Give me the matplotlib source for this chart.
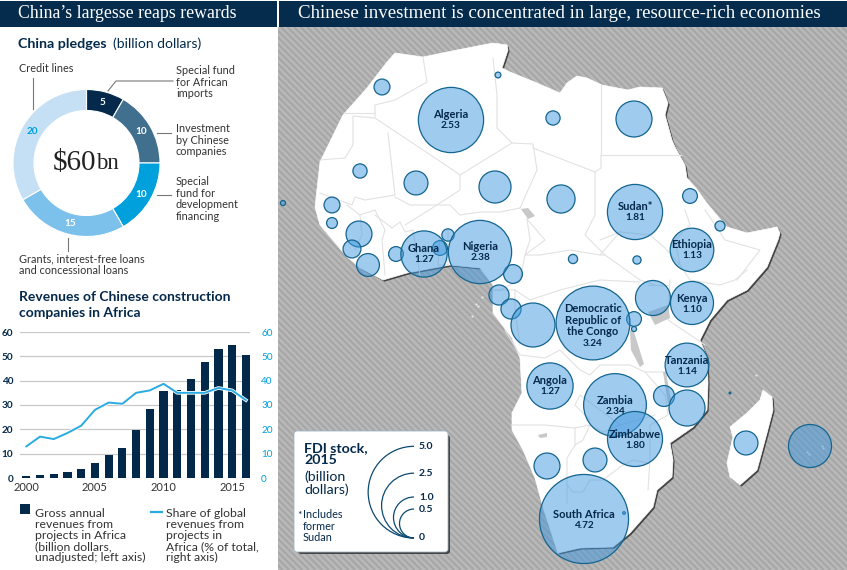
import numpy as np
import matplotlib
matplotlib.use("Agg")
import matplotlib.pyplot as plt
import matplotlib.patheffects as pe
from matplotlib.patches import Rectangle, Polygon, Circle, Arc, FancyBboxPatch

plt.rcParams['font.family'] = ['Lato', 'DejaVu Sans']

NAVY = '#04294a'
BLUE = '#00a0dc'
GREY_TXT = '#333333'

# donut data
pledge_values = [5, 10, 10, 15, 20]
pledge_colors = ['#04294a', '#41708f', '#00a0dc', '#7cc0ec', '#c5dff5']
pledge_text_colors = ['white', 'white', 'white', 'white', '#00a0dc']

# revenue chart data
years = list(range(2000, 2017))
revenues = [1.0, 1.3, 1.8, 2.6, 3.7, 6.0, 9.3, 12.5, 19.7, 28.2, 35.8, 36.2, 40.8, 47.7, 53.2, 54.7, 50.5]
share = [13, 17, 16, 18.5, 21.5, 28, 31, 30.5, 35, 36, 38.7, 35, 35, 35, 37, 36, 32]
rev_ticks = [0, 10, 20, 30, 40, 50, 60]
year_ticks = [2000, 2005, 2010, 2015]

# FDI stock, billion dollars (bubbles without a label are estimated from their size)
countries = ['Algeria', 'Sudan*', 'Ethiopia', 'Kenya', 'Tanzania', 'Democratic\nRepublic of\nthe Congo',
             'Angola', 'Zambia', 'Zimbabwe', 'South Africa', 'Nigeria', 'Ghana']
fdi = [2.53, 1.81, 1.13, 1.10, 1.14, 3.24, 1.27, 2.34, 1.80, 4.72, 2.38, 1.27]
fdi_x = [451, 635, 692, 692, 687, 593, 550, 615, 635, 584, 480, 424]
fdi_y = [120, 212, 250, 303, 365, 323, 386, 405, 439, 519, 252, 254]

other_fdi = [0.02, 0.15, 0.12, 0.77, 0.12, 0.34, 0.61, 0.47, 0.15, 0.015, 0.07, 0.40, 0.19, 0.31, 0.13, 0.13,
             0.09, 0.21, 0.05, 0.24, 0.24, 1.15, 0.40, 0.34, 0.13, 0.06, 0.04, 0.73, 0.13, 0.015, 0.26, 0.77,
             0.34, 1.10, 0.002, 0.004]
other_x = [498, 382, 553, 634, 360, 416, 495, 561, 332, 283, 332, 359, 352, 368, 396, 440,
           448, 513, 573, 499, 511, 533, 547, 595, 690, 720, 637, 653, 634, 634, 664, 687,
           746, 810, 730, 624]
other_y = [75, 87, 118, 119, 171, 183, 187, 199, 205, 203, 223, 234, 249, 265, 254, 248,
           235, 274, 259, 295, 309, 325, 466, 460, 196, 226, 260, 298, 319, 329, 396, 408,
           443, 446, 393, 513]

legend_sizes = [5.0, 2.5, 1.0, 0.5]
RADIUS_K = 20.5

# map shapes in picture pixels
africa = [(395, 53), (423, 57), (457, 50), (493, 43), (507, 45), (508, 50), (502, 68), (510, 72), (537, 83),
          (560, 93), (567, 83), (577, 76), (587, 78), (602, 85), (628, 90), (640, 87), (662, 88), (668, 103),
          (665, 115), (672, 140), (675, 147), (685, 165), (687, 178), (697, 189),
          (707, 203), (727, 227), (747, 233), (777, 227), (780, 233), (778, 240), (767, 267), (747, 290),
          (727, 300), (710, 320), (700, 340), (707, 357), (708, 383), (707, 410), (693, 427), (670, 443),
          (673, 460), (672, 477), (657, 490), (653, 507), (630, 533), (613, 547), (580, 548), (558, 553),
          (543, 507), (535, 478), (523, 450), (512, 430), (512, 413), (522, 393), (520, 358), (512, 338),
          (493, 313), (493, 285), (480, 268), (450, 265), (407, 273), (383, 280), (360, 268), (347, 257),
          (320, 225), (315, 207), (320, 162), (343, 115), (367, 88), (387, 62)]
madagascar = [(763, 390), (772, 397), (773, 410), (767, 433), (757, 470), (740, 485), (730, 477), (727, 463),
              (733, 437), (730, 427), (747, 413), (760, 400)]
lakes = [[(521, 209), (528, 208), (535, 216), (528, 219)],
         [(648, 312), (668, 305), (670, 318), (655, 325)],
         [(630, 330), (634, 332), (644, 364), (640, 367), (631, 350)],
         [(663, 372), (666, 372), (671, 400), (668, 404)],
         [(538, 435), (547, 433), (547, 437), (540, 438)]]
islands_x = [807, 809, 822, 823, 756, 476, 478, 482, 472]
islands_y = [452, 454, 446, 448, 375, 304, 306, 297, 316]
borders = [
    [(423, 57), (425, 70), (427, 82), (395, 100), (375, 105), (375, 118), (453, 170), (460, 175), (512, 143), (497, 128), (497, 95), (493, 58)],
    [(345, 113), (375, 113)],
    [(375, 118), (353, 116), (353, 145), (345, 158), (320, 160)],
    [(388, 133), (395, 195), (365, 200), (355, 197), (352, 205), (320, 193)],
    [(460, 175), (460, 190), (437, 205), (410, 205), (395, 197)],
    [(405, 225), (437, 205), (450, 205), (460, 215), (480, 212), (500, 212), (520, 208)],
    [(512, 143), (533, 144), (537, 170), (520, 208)],
    [(533, 148), (595, 172), (595, 215), (585, 235), (605, 255)],
    [(601, 85), (601, 155), (681, 155)],
    [(595, 172), (601, 168), (601, 155)],
    [(527, 219), (530, 240), (525, 255), (540, 255), (570, 250), (600, 255), (605, 255), (640, 280), (655, 285)],
    [(527, 219), (545, 240), (525, 255), (520, 280), (500, 290), (493, 290)],
    [(600, 255), (620, 232), (650, 235), (665, 248), (680, 265), (690, 280), (720, 285), (735, 280), (747, 270)],
    [(620, 232), (600, 240)],
    [(685, 210), (690, 225), (675, 240), (680, 265)],
    [(705, 210), (725, 240), (760, 250), (737, 280)],
    [(670, 280), (668, 320), (705, 345)],
    [(648, 285), (668, 285)],
    [(493, 290), (515, 290), (530, 300), (560, 290), (600, 280), (640, 282)],
    [(505, 330), (520, 355), (545, 358), (560, 350), (580, 370), (590, 375), (600, 365), (630, 365), (645, 372), (665, 372)],
    [(515, 290), (515, 310), (520, 345)],
    [(512, 425), (545, 425), (575, 428), (590, 425), (603, 432), (620, 425), (655, 415)],
    [(575, 428), (575, 445), (567, 458), (567, 503)],
    [(590, 425), (583, 440), (575, 445)],
    [(620, 425), (580, 395), (575, 405), (590, 420)],
    [(645, 372), (665, 395), (668, 415), (650, 425), (650, 460), (648, 490)],
    [(567, 485), (573, 492), (583, 492), (590, 480), (603, 480), (620, 467), (633, 460), (648, 463)],
    [(347, 205), (360, 215), (375, 210), (385, 230), (382, 240), (385, 275)],
    [(375, 215), (392, 228), (400, 222), (405, 232), (413, 230), (420, 275)],
    [(360, 215), (362, 235), (355, 250)],
    [(440, 235), (438, 265), (448, 265), (448, 230)],
]

fig = plt.figure(figsize=(8.47, 5.70), dpi=100, facecolor='white')

# base layer, in picture pixels
base = fig.add_axes([0, 0, 1, 1])
base.set_xlim(0, 847)
base.set_ylim(570, 0)
base.axis('off')

# map background with diagonal stripes
bg = Rectangle((278, 27), 569, 543, facecolor='#b9b9b9', edgecolor='none', zorder=0.1)
base.add_patch(bg)
for x0 in np.arange(-300, 860, 6.6):
    stripe, = base.plot([x0, x0 + 543], [27, 570], color='#a7a7a7', lw=1.6, solid_capstyle='butt', zorder=0.2)
    stripe.set_clip_path(bg)

for shape in [africa, madagascar]:
    shadow = [(x + 1.6, y + 1.6) for x, y in shape]
    base.add_patch(Polygon(shadow, closed=True, facecolor='#444444', edgecolor='none', zorder=0.3))
for shape in [africa, madagascar]:
    base.add_patch(Polygon(shape, closed=True, facecolor='white', edgecolor='white', linewidth=0.5, zorder=0.4))
for line in borders:
    xs, ys = zip(*line)
    base.plot(xs, ys, color='#e2e2e2', lw=0.8, solid_joinstyle='round', zorder=0.5)
for lake in lakes:
    base.add_patch(Polygon(lake, closed=True, facecolor='#c8c8c8', edgecolor='none', zorder=0.6))
base.plot(islands_x, islands_y, ls='none', marker='o', ms=1.6, mew=0, color='#e8e8e8', zorder=0.7)

# bubbles
for v, x, y in zip(other_fdi + fdi, other_x + fdi_x, other_y + fdi_y):
    r = RADIUS_K * np.sqrt(v)
    base.add_patch(Circle((x, y), r, facecolor=(0.25, 0.6, 0.88, 0.5), edgecolor='none', zorder=1))
    base.add_patch(Circle((x, y), r, facecolor='none', edgecolor='#14658f', linewidth=0.9, zorder=1))
for name, v, x, y in zip(countries, fdi, fdi_x, fdi_y):
    n_lines = name.count('\n') + 1
    base.text(x, y - 5 + (n_lines - 1), name, ha='center', va='center', fontsize=8, fontweight='bold', color=NAVY, linespacing=1.05)
    base.text(x, y + 6 + (n_lines - 1) * 7, '%.2f' % v, ha='center', va='center', fontsize=7.2, fontweight='bold', color=NAVY)

# headers
base.add_patch(Rectangle((0, 1), 277, 26, facecolor='#052c4c', edgecolor='none'))
base.add_patch(Rectangle((279, 1), 568, 26, facecolor='#052c4c', edgecolor='none'))
base.text(18, 14, "China’s largesse reaps rewards", color='white', fontsize=12.8, family='Liberation Serif', va='center')
base.text(298, 14, 'Chinese investment is concentrated in large, resource-rich economies', color='white',
          fontsize=13.6, family='Liberation Serif', va='center')

# donut titles and notes
base.text(18, 44, 'China pledges', fontsize=10.3, fontweight='bold', color=NAVY, va='center')
base.text(113, 44, '(billion dollars)', fontsize=10, color=NAVY, va='center')
note_color = GREY_TXT
base.text(19, 68, 'Credit lines', fontsize=7.8, color=note_color, va='center')
base.text(176, 82, 'Special fund\nfor African\nimports', fontsize=7.8, color=note_color, va='center', linespacing=1.05)
base.text(176, 140, 'Investment\nby Chinese\ncompanies', fontsize=7.8, color=note_color, va='center', linespacing=1.05)
base.text(176, 199, 'Special\nfund for\ndevelopment\nfinancing', fontsize=7.8, color=note_color, va='center', linespacing=1.05)
base.text(19, 265, 'Grants, interest-free loans\nand concessional loans', fontsize=7.8, color=note_color, va='center', linespacing=1.05)
for xs, ys in [((33, 33), (78, 109)), ((108, 116, 173), (91, 81, 81)), ((157, 171), (133, 133)),
               ((157, 171), (195, 195)), ((68, 68), (238, 251))]:
    base.plot(xs, ys, color='#777777', lw=0.8)

# bar chart titles and legend
base.text(19, 297, 'Revenues of Chinese construction', fontsize=10, fontweight='bold', color=NAVY, va='center')
base.text(19, 313, 'companies in Africa', fontsize=10, fontweight='bold', color=NAVY, va='center')
base.add_patch(Rectangle((20, 504), 10, 10, facecolor=NAVY, edgecolor='none'))
base.text(35, 535.5, 'Gross annual\nrevenues from\nprojects in Africa\n(billion dollars,\nunadjusted; left axis)',
          fontsize=8.8, color=GREY_TXT, va='center', linespacing=0.98)
base.plot([151, 162], [512, 512], color='#29abe2', lw=1.6)
base.text(166, 535.5, 'Share of global\nrevenues from\nprojects in\nAfrica (% of total,\nright axis)',
          fontsize=8.8, color=GREY_TXT, va='center', linespacing=0.98)

# FDI key box
base.add_patch(FancyBboxPatch((298, 435), 152, 119, boxstyle='round,pad=0,rounding_size=3', facecolor='#444444', edgecolor='none', zorder=1.5))
base.add_patch(FancyBboxPatch((294, 431), 154, 121, boxstyle='round,pad=0,rounding_size=3', facecolor='white', edgecolor='#9fb6c6', linewidth=0.6, zorder=1.6))
base.text(304, 454, 'FDI stock,\n2015', fontsize=10.2, fontweight='bold', color=NAVY, va='center', linespacing=1.0)
base.text(304, 483, '(billion\ndollars)', fontsize=10.2, color=NAVY, va='center', linespacing=1.0)
base.text(297, 516, '*', fontsize=7.5, color=NAVY, va='center')
base.text(303, 526, 'Includes\nformer\nSudan', fontsize=7.8, color=NAVY, va='center', linespacing=1.02)
KEY_X, KEY_Y = 414, 538
for size in legend_sizes:
    r = RADIUS_K * np.sqrt(size)
    base.add_patch(Arc((KEY_X, KEY_Y - r), 2 * r, 2 * r, theta1=90, theta2=270, color='#0d4a72', lw=0.9, zorder=1.7))
    base.text(KEY_X + 5, KEY_Y - 2 * r, '%.1f' % size, fontsize=7.5, fontweight='bold', color=NAVY, va='center')
base.text(KEY_X + 5, KEY_Y, '0', fontsize=7.5, fontweight='bold', color=NAVY, va='center')

# donut
ax_d = fig.add_axes([13 / 847, 1 - 236.5 / 570, 147 / 847, 147 / 570])
wedges, _ = ax_d.pie(pledge_values, colors=pledge_colors, startangle=90, counterclock=False, radius=1,
                     wedgeprops=dict(width=21 / 73.5, edgecolor='white', linewidth=0.8))
ax_d.set_xlim(-1, 1)
ax_d.set_ylim(-1, 1)
for w, v, c in zip(wedges, pledge_values, pledge_text_colors):
    ang = np.deg2rad((w.theta1 + w.theta2) / 2)
    ax_d.text(0.855 * np.cos(ang), 0.855 * np.sin(ang), str(v), color=c, fontsize=7.2, fontweight='bold', ha='center', va='center')
ax_d.text(0.13, 0, '$60', fontsize=21, family='Liberation Serif', color='#222222', ha='right', va='center')
ax_d.text(0.13, -0.01, 'bn', fontsize=16.5, family='Liberation Serif', color='#222222', ha='left', va='center')

# bars and line
ax_b = fig.add_axes([20 / 847, 1 - 478 / 570, 230 / 847, 146 / 570])
ax_b.patch.set_alpha(0)
ax_b.bar(years, revenues, width=0.6, color='#03294a', zorder=3)
ax_b.set_xlim(1999.54, 2016.3)
ax_b.set_ylim(0, 60)
ax_b.set_yticks(rev_ticks)
ax_b.set_xticks(year_ticks)
ax_b.yaxis.grid(True, color='#c8c8c8', lw=0.9, zorder=0)
ax_b.set_axisbelow(True)
for s in ax_b.spines.values():
    s.set_visible(False)
ax_b.tick_params(axis='y', length=0, pad=5, labelsize=7.2, labelcolor=NAVY)
ax_b.tick_params(axis='x', length=0, pad=3, labelsize=8, labelcolor=GREY_TXT)
for lab in ax_b.get_yticklabels():
    lab.set_fontweight('bold')

ax_l = ax_b.twinx()
ax_l.plot(years, share, color='#29abe2', lw=1.4, zorder=5,
          path_effects=[pe.Stroke(linewidth=2.6, foreground='white'), pe.Normal()])
ax_l.set_ylim(0, 60)
ax_l.set_yticks(rev_ticks)
for s in ax_l.spines.values():
    s.set_visible(False)
ax_l.tick_params(axis='y', length=0, pad=8, labelsize=7.2, labelcolor=BLUE)

fig.savefig('out.png', dpi=100)
